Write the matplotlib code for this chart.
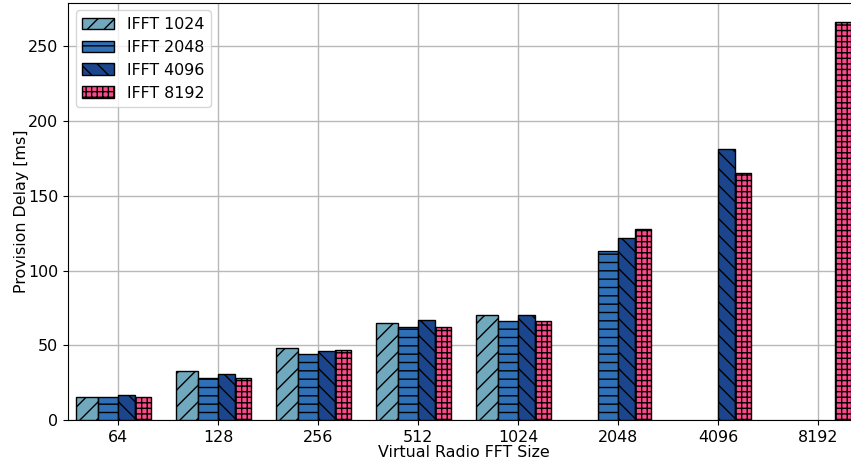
import numpy as np
import matplotlib
matplotlib.use("Agg")
import matplotlib.pyplot as plt

# FFT sizes of the virtual radios on the x axis
fft_sizes = ["64", "128", "256", "512", "1024", "2048", "4096", "8192"]

# Provision delay [ms] per host IFFT size (nan = not applicable)
nan = np.nan
ifft_1024 = [15.5, 33, 48, 65, 70, nan, nan, nan]
ifft_2048 = [15.5, 28, 44, 62, 66.3, 113, nan, nan]
ifft_4096 = [17, 31, 46, 67, 70, 122, 181, nan]
ifft_8192 = [15.5, 28, 47, 62, 66, 128, 165, 266]

series_labels = ["IFFT 1024", "IFFT 2048", "IFFT 4096", "IFFT 8192"]

# (left offset, width, face colour, hatch) for each series
styles = [
    (-0.42, 0.223, "#70a9be", "//"),
    (-0.197, 0.197, "#3070b6", "--"),
    (0.0, 0.166, "#1b468e", "\\\\"),
    (0.166, 0.167, "#fd4a8c", "+++"),
]

FS = 11.4
plt.rcParams["font.family"] = "DejaVu Sans"
plt.rcParams["hatch.linewidth"] = 1.0

fig = plt.figure(figsize=(8.51, 4.66), dpi=100)
ax = fig.add_axes([68 / 851, 46 / 466, 792 / 851, 417.5 / 466])

x = np.arange(len(fft_sizes))
for values, label, (off, w, color, hatch) in zip(
        [ifft_1024, ifft_2048, ifft_4096, ifft_8192], series_labels, styles):
    ax.bar(x + off, values, width=w, align="edge", color=color,
           edgecolor="black", linewidth=1.0, hatch=hatch, label=label,
           zorder=3)

ax.set_xticks(x)
ax.set_xticklabels(fft_sizes)
ax.set_xlim(-0.5, 7.42)
ax.set_ylim(0, 266 * 1.05)
ax.set_yticks([0, 50, 100, 150, 200, 250])
ax.tick_params(labelsize=FS)
ax.grid(True, color="#b8b8b8", linewidth=1.0, zorder=0)
ax.set_axisbelow(True)

ax.set_xlabel("Virtual Radio FFT Size", fontsize=FS, labelpad=0.5)
ax.set_ylabel("Provision Delay [ms]", fontsize=FS, labelpad=-0.5)

ax.legend(loc="upper left", fontsize=FS)

fig.savefig("out.png", dpi=100)
